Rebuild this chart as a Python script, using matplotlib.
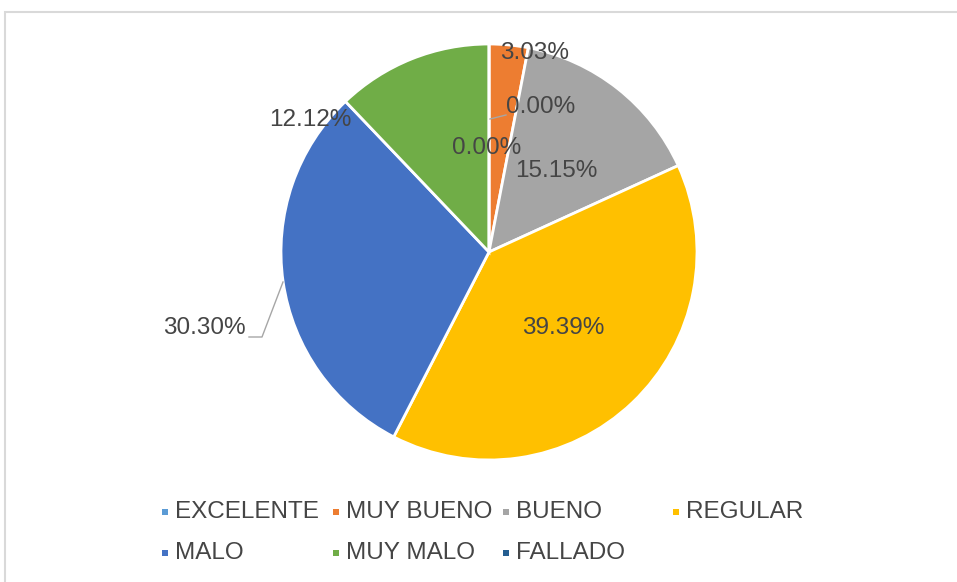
import numpy as np
import matplotlib
matplotlib.use("Agg")
import matplotlib.pyplot as plt
from matplotlib.patches import Rectangle
from matplotlib.lines import Line2D

categories = ["EXCELENTE", "MUY BUENO", "BUENO", "REGULAR", "MALO", "MUY MALO", "FALLADO"]
values = [0.00, 3.03, 15.15, 39.39, 30.30, 12.12, 0.00]
colors = ["#5B9BD5", "#ED7D31", "#A5A5A5", "#FFC000", "#4472C4", "#70AD47", "#255E91"]

W, H = 957, 582
fig = plt.figure(figsize=(W / 100, H / 100), dpi=100)
ax = fig.add_axes([0, 0, 1, 1])
ax.set_xlim(0, W)
ax.set_ylim(0, H)
ax.axis("off")

def py(y):  # pixel (top-down) to data y
    return H - y

# frame border
ax.add_patch(Rectangle((5, py(590)), 960, 578, fill=False, edgecolor="#D9D9D9",
                       linewidth=1.5, clip_on=False))

cx, cy, R = 489, py(252), 208
wedges, _ = ax.pie(values, colors=colors, startangle=90, counterclock=False,
                   center=(cx, cy), radius=R,
                   wedgeprops=dict(edgecolor="white", linewidth=2))
ax.set_xlim(0, W)
ax.set_ylim(0, H)

txt_color = "#454545"
font = dict(family="Liberation Sans", size=17.5, color=txt_color)

# label positions (pixel, center of text)
label_pos = [(541, 107), (535, 53), (556, 171), (563, 328), (204, 328), (310, 120), (487, 148)]
for v, (lx, ly) in zip(values, label_pos):
    ax.text(lx, py(ly), f"{v:.2f}%", ha="center", va="center", **font)

# leader lines
lc = "#A6A6A6"
ax.add_line(Line2D([490, 506], [py(119), py(115)], color=lc, lw=1))
ax.add_line(Line2D([283, 262, 249], [py(282), py(337), py(337)], color=lc, lw=1))

# legend (row-major, uniform column widths)
col_x = [165, 336, 506, 676]
row_y = [512, 553]
for i, (cat, col) in enumerate(zip(categories, colors)):
    r, c = divmod(i, 4)
    x, y = col_x[c], row_y[r]
    ax.add_patch(Rectangle((x - 3, py(y) - 3), 6, 6, facecolor=col, edgecolor="none"))
    ax.text(x + 10, py(y), cat, ha="left", va="center", **font)

fig.savefig("out.png", dpi=100, facecolor="white")
